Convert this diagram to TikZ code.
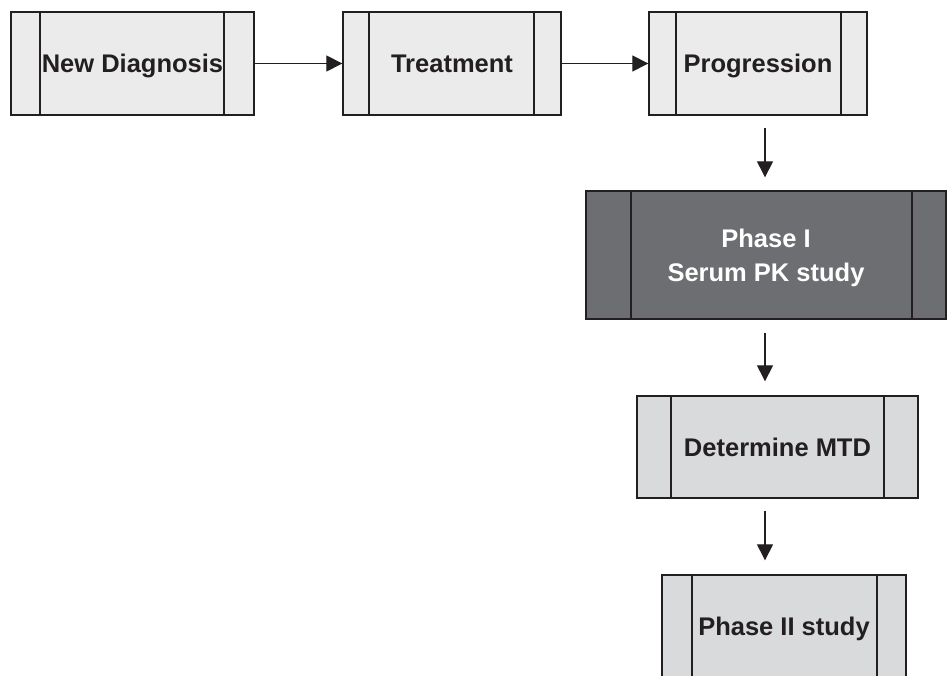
\documentclass[tikz,border=0pt]{standalone}
\usepackage{fontspec}
\setmainfont{Liberation Sans}
\usetikzlibrary{arrows.meta}
\definecolor{ink}{HTML}{231F20}
\definecolor{paleFill}{HTML}{EBEBEB}
\definecolor{greyFill}{HTML}{D9DADC}
\definecolor{darkFill}{HTML}{6D6E71}
\tikzset{
  % process box with two inner vertical bars, offsets #1 (left) and #2 (right)
  procbox/.style 2 args={draw=ink, line width=1.3pt, rectangle, inner sep=0pt,
    text=ink, font=\bfseries\fontsize{25.5}{34}\selectfont, align=center,
    path picture={
      \draw[ink, line width=1.3pt]
        ([xshift=#1]path picture bounding box.north west) --
        ([xshift=#1]path picture bounding box.south west)
        ([xshift=-#2]path picture bounding box.north east) --
        ([xshift=-#2]path picture bounding box.south east);
    }},
  % fixed line box so every one-line label sits on the same baseline
  oneline/.style={text height=18.5pt, text depth=0pt},
  flowarrow/.style={draw=ink, line width=1.1pt,
    -{Triangle[length=16pt,width=16pt]}},
}
\begin{document}
\begin{tikzpicture}[x=1pt,y=1pt]
  \useasboundingbox (0,0) rectangle (948,675);
  \clip (0,0) rectangle (948,675);

  % top row
  \node[procbox={29pt}{30pt}, oneline, fill=paleFill, minimum width=243pt, minimum height=103pt]
    (diag) at (132.5,611.5) {New Diagnosis};
  \node[procbox={26pt}{27pt}, oneline, fill=paleFill, minimum width=218pt, minimum height=103pt]
    (treat) at (452,611.5) {Treatment};
  \node[procbox={27pt}{26pt}, oneline, fill=paleFill, minimum width=218pt, minimum height=103pt]
    (prog) at (758,611.5) {Progression};

  % right-hand column
  \node[procbox={45pt}{34pt}, fill=darkFill, text=white, minimum width=360pt, minimum height=128pt]
    (phase1) at (766,420) {};
  \node[text=white, font=\bfseries\fontsize{25.5}{34}\selectfont, align=center,
    inner sep=0pt, yshift=-3pt] (phase1txt) at (phase1.center) {Phase I\\Serum PK study};
  \node[procbox={34pt}{34pt}, oneline, fill=greyFill, minimum width=281pt, minimum height=102pt]
    (mtd) at (777.5,228) {Determine MTD};
  \node[procbox={30pt}{29pt}, oneline, fill=greyFill, minimum width=244pt, minimum height=102pt]
    (phase2) at (784,49) {Phase II study};

  % connectors
  \coordinate (col) at (765,0);
  \draw[flowarrow] (diag.east) -- (treat.west);
  \draw[flowarrow] (treat.east) -- (prog.west);
  \draw[flowarrow, shorten <=12pt, shorten >=13pt] (prog.south -| col) -- (phase1.north -| col);
  \draw[flowarrow, shorten <=13pt, shorten >=14pt] (phase1.south -| col) -- (mtd.north -| col);
  \draw[flowarrow, shorten <=12pt, shorten >=14pt] (mtd.south -| col) -- (phase2.north -| col);
\end{tikzpicture}
\end{document}
